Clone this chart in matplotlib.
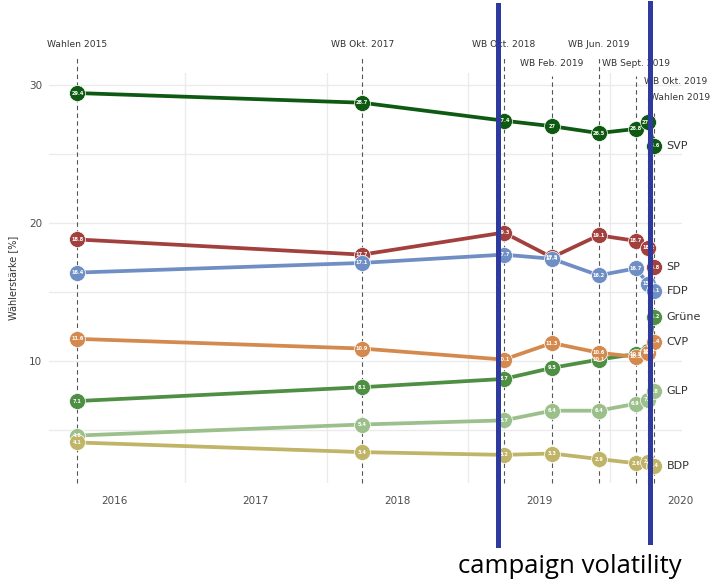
import numpy as np
import matplotlib
matplotlib.use("Agg")
import matplotlib.pyplot as plt

# survey dates as decimal years, with their labels
dates = [2015.74, 2017.75, 2018.75, 2019.09, 2019.42, 2019.68, 2019.77, 2019.81]
date_labels = ["Wahlen 2015", "WB Okt. 2017", "WB Okt. 2018", "WB Feb. 2019",
               "WB Jun. 2019", "WB Sept. 2019", "WB Okt. 2019", "Wahlen 2019"]
label_rows = [32.95, 32.95, 32.95, 31.55, 32.95, 31.55, 30.25, 29.05]

parties = ["SVP", "SP", "FDP", "Grüne", "CVP", "GLP", "BDP"]
svp = [29.4, 28.7, 27.4, 27.0, 26.5, 26.8, 27.3, 25.6]
sp = [18.8, 17.7, 19.3, 17.5, 19.1, 18.7, 18.2, 16.8]
fdp = [16.4, 17.1, 17.7, 17.4, 16.2, 16.7, 15.6, 15.1]
gruene = [7.1, 8.1, 8.7, 9.5, 10.1, 10.5, 10.7, 13.2]
cvp = [11.6, 10.9, 10.1, 11.3, 10.6, 10.3, 10.6, 11.4]
glp = [4.6, 5.4, 5.7, 6.4, 6.4, 6.9, 7.2, 7.8]
bdp = [4.1, 3.4, 3.2, 3.3, 2.9, 2.6, 2.7, 2.4]
series = [svp, sp, fdp, gruene, cvp, glp, bdp]
colors = ["#0f5a12", "#a2403e", "#6f8fc4", "#4e8f44", "#d48a4e", "#9cc08c", "#bfb467"]

years = [2016, 2017, 2018, 2019, 2020]
campaign = [2018.71, 2019.785]  # hand drawn blue markers

fig = plt.figure(figsize=(7.22, 5.82), dpi=100)
ax = fig.add_axes([0.068, 0.170, 0.877, 0.705])
ax.set_xlim(2015.54, 2020.01)
ax.set_ylim(1.16, 30.87)

for s in ax.spines.values():
    s.set_visible(False)

# grid like ggplot minimal
for v in [5, 10, 15, 20, 25, 30]:
    ax.axhline(v, color="#ebebeb", lw=1, zorder=0)
for yr in years[:-1]:
    ax.axvline(yr + 0.5, color="#ebebeb", lw=1, zorder=0)

# dashed survey lines and labels
for d, lab, row in zip(dates, date_labels, label_rows):
    top = row - 0.95
    ax.plot([d, d], [1.16, top], color="#555555", lw=0.8, ls=(0, (4, 3)),
            clip_on=False, zorder=1)
    ha = "center"
    xt = d
    if lab in ("WB Okt. 2019", "Wahlen 2019"):
        ha = "left"
        xt = d - 0.03
    ax.text(xt, row, lab, ha=ha, va="center", fontsize=6.6, color="#333333",
            family="Liberation Sans Narrow", clip_on=False)

for name, vals, c in zip(parties, series, colors):
    ax.plot(dates, vals, color=c, lw=2.7, marker="o", ms=11.5,
            mec="white", mew=0.5, zorder=3, clip_on=False)
    for d, v in zip(dates, vals):
        ax.text(d, v, f"{v:g}", ha="center", va="center", fontsize=3.6,
                color="white", fontweight="bold", zorder=4, clip_on=False)
    ax.annotate(name, (dates[-1], vals[-1]), xytext=(9, 0),
                textcoords="offset points", ha="left", va="center",
                fontsize=8, color="#333333", annotation_clip=False)

ax.set_yticks([10, 20, 30])
ax.set_xticks(years)
ax.tick_params(length=0, labelsize=7.5, labelcolor="#4d4d4d")
ax.tick_params(axis="x", pad=9)
ax.tick_params(axis="y", pad=5)
ax.set_ylabel("Wählerstärke [%]", fontsize=7, color="#333333", labelpad=8)

# campaign volatility markers
ax.axvline(campaign[0], ymin=-0.151, ymax=1.165, color="#2e3a9e", lw=3.6,
           clip_on=False, zorder=6)
ax.axvline(campaign[1], ymin=-0.144, ymax=1.170, color="#2e3a9e", lw=3.6,
           clip_on=False, zorder=6)
fig.text(0.634, 0.027, "campaign volatility", fontsize=18.5, family="Open Sans",
         ha="left", va="center", color="black")

fig.savefig("out.png", dpi=100, facecolor="white")
